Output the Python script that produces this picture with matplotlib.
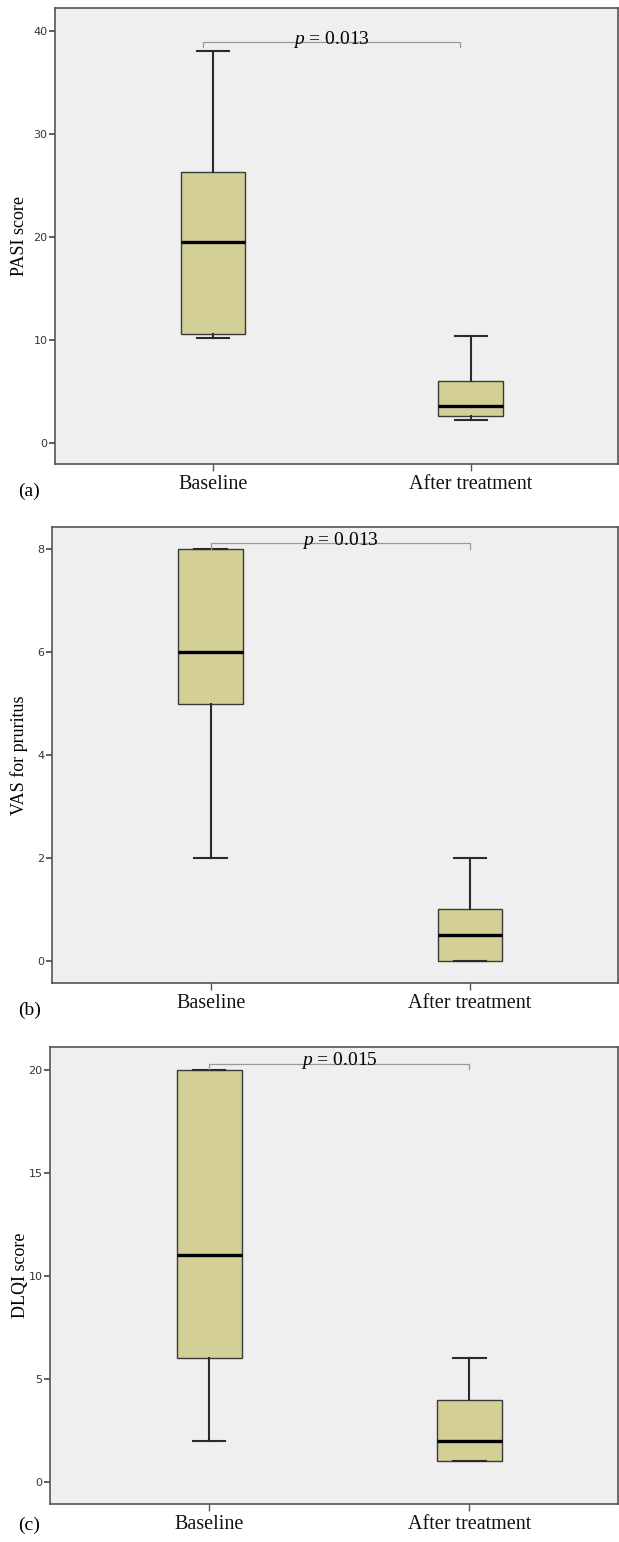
import numpy as np
import matplotlib
matplotlib.use("Agg")
import matplotlib.pyplot as plt

plt.rcParams["mathtext.fontset"] = "custom"
plt.rcParams["mathtext.it"] = "Liberation Serif:italic"
plt.rcParams["mathtext.rm"] = "Liberation Serif"

groups = ["Baseline", "After treatment"]

# five-number summaries per panel: (whislo, q1, med, q3, whishi)
pasi_base = [10.2, 10.6, 19.5, 26.3, 38.0]
pasi_after = [2.2, 2.6, 3.6, 6.0, 10.4]
vas_base = [2.0, 5.0, 6.0, 8.0, 8.0]
vas_after = [0.0, 0.0, 0.5, 1.0, 2.0]
dlqi_base = [2.0, 6.0, 11.0, 20.0, 20.0]
dlqi_after = [1.0, 1.0, 2.0, 4.0, 6.0]

ylabels = ["PASI score", "VAS for pruritus", "DLQI score"]
panel_tags = ["(a)", "(b)", "(c)"]
pvalues = ["0.013", "0.013", "0.015"]
yticks = [[0, 10, 20, 30, 40], [0, 2, 4, 6, 8], [0, 5, 10, 15, 20]]
ylims = [(-2.05, 42.2), (-0.43, 8.43), (-1.07, 21.1)]
bracket_y = [38.9, 8.12, 20.3]
bracket_drop = [0.5, 0.12, 0.25]

panels = [(pasi_base, pasi_after), (vas_base, vas_after), (dlqi_base, dlqi_after)]

# axes rectangles in figure fraction
rects = [
    [0.0889, 0.699, 0.909, 0.2957],
    [0.0840, 0.3625, 0.914, 0.2957],
    [0.0808, 0.0246, 0.917, 0.2964],
]
tag_y = [0.6815, 0.3450, 0.0110]
ylabel_x = [-0.064, -0.058, -0.052]

bg = "#efefef"
boxfill = "#d4cf96"
serif = ["Liberation Serif", "DejaVu Serif"]

fig = plt.figure(figsize=(6.19, 15.42), dpi=100)

for i, (base, after) in enumerate(panels):
    ax = fig.add_axes(rects[i])
    ax.set_facecolor(bg)
    stats = []
    for name, s in zip(groups, (base, after)):
        stats.append(dict(label=name, whislo=s[0], q1=s[1], med=s[2],
                          q3=s[3], whishi=s[4], fliers=[]))
    ax.bxp(stats, positions=[1, 2], widths=0.25, capwidths=0.125,
           patch_artist=True, showfliers=False,
           boxprops=dict(facecolor=boxfill, edgecolor="#3a3a3a", linewidth=1.0),
           medianprops=dict(color="black", linewidth=2.4),
           whiskerprops=dict(color="#2a2a2a", linewidth=1.5),
           capprops=dict(color="#2a2a2a", linewidth=1.5))

    ax.set_xlim(0.388, 2.57)
    ax.set_ylim(*ylims[i])
    ax.set_yticks(yticks[i])
    ax.tick_params(axis="y", labelsize=8, length=4.3, width=1.2,
                   color="#444444", labelcolor="#333333", pad=1)
    ax.tick_params(axis="x", length=5, width=1.0, color="#555555", pad=3)
    ax.set_xticks([1, 2])
    ax.set_xticklabels(groups, family=serif, fontsize=14.5, color="#111111")
    for sp in ax.spines.values():
        sp.set_color("#555555")
        sp.set_linewidth(1.2)
    ax.set_ylabel(ylabels[i], family=serif, fontsize=13, va="center")
    ax.yaxis.set_label_coords(ylabel_x[i], 0.5)

    # significance bracket
    x0 = 0.96 if i == 0 else 1.0
    x1 = 1.96 if i == 0 else 2.0
    yb = bracket_y[i]
    d = bracket_drop[i]
    ax.plot([x0, x0, x1, x1], [yb - d, yb, yb, yb - d],
            color="#999999", linewidth=0.9, clip_on=False)
    ax.text((x0 + x1) / 2, yb - d * 0.3, r"$p$ = " + pvalues[i],
            family=serif, fontsize=14, ha="center", va="baseline")

    fig.text(0.03, tag_y[i], panel_tags[i], family=serif, fontsize=14,
             ha="left", va="center")

fig.savefig("out.png", dpi=100, facecolor="white")
